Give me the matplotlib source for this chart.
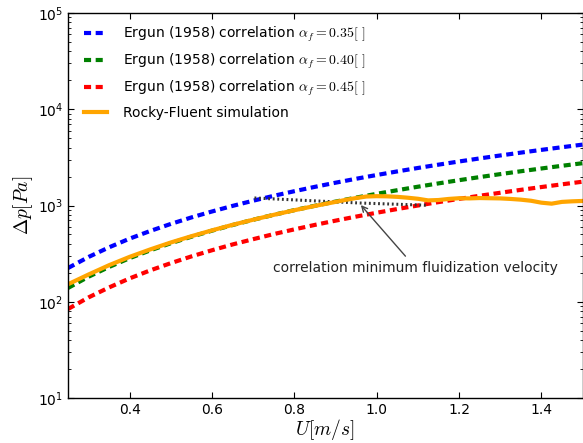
import matplotlib
matplotlib.use("Agg")
import matplotlib.pyplot as plt
import numpy as np

plt.rcParams['mathtext.fontset'] = 'cm'
plt.rcParams['font.family'] = ['DejaVu Sans']

# Ergun correlation curves
u_ergun = [0.25, 0.30, 0.35, 0.40, 0.45, 0.50, 0.55, 0.60, 0.65, 0.70, 0.75, 0.80, 0.85,
           0.90, 0.95, 1.00, 1.05, 1.10, 1.15, 1.20, 1.25, 1.30, 1.35, 1.40, 1.45, 1.50]
dp_035 = [224, 292, 368, 453, 544, 644, 752, 867, 991, 1122, 1261, 1408, 1563,
          1725, 1896, 2074, 2260, 2454, 2656, 2866, 3084, 3309, 3542, 3783, 4032, 4290]
dp_040 = [139, 182, 230, 284, 342, 406, 474, 548, 627, 711, 800, 895, 994,
          1098, 1208, 1322, 1442, 1567, 1697, 1832, 1973, 2118, 2268, 2424, 2585, 2750]
dp_045 = [84, 111, 141, 175, 212, 252, 296, 343, 394, 447, 505, 565, 629,
          696, 767, 841, 919, 1000, 1084, 1171, 1262, 1356, 1454, 1555, 1659, 1767]

# Rocky-Fluent simulation
u_sim = [0.25, 0.30, 0.35, 0.40, 0.45, 0.50, 0.55, 0.60, 0.65, 0.70, 0.75, 0.80, 0.85, 0.90,
         0.925, 0.95, 0.975, 1.00, 1.025, 1.05, 1.075, 1.10, 1.125, 1.15, 1.175, 1.20,
         1.225, 1.25, 1.275, 1.30, 1.325, 1.35, 1.375, 1.40, 1.425, 1.45, 1.475, 1.50]
dp_sim = [152, 192, 240, 293, 350, 413, 480, 552, 630, 712, 800, 893, 990, 1090,
          1145, 1195, 1240, 1250, 1245, 1230, 1205, 1175, 1130, 1140, 1170, 1190,
          1185, 1195, 1190, 1185, 1170, 1150, 1120, 1070, 1045, 1090, 1105, 1115]

# Minimum fluidization line
u_mf = [0.703, 0.957, 1.125]
dp_mf = [1197, 1062, 1005]

labels = [r'Ergun (1958) correlation $\alpha_f=0.35[\,\,]$',
          r'Ergun (1958) correlation $\alpha_f=0.40[\,\,]$',
          r'Ergun (1958) correlation $\alpha_f=0.45[\,\,]$',
          'Rocky-Fluent simulation']

fig = plt.figure(figsize=(5.83, 4.43), dpi=100)
ax = fig.add_axes([68/583, 1-398/443, 514.5/583, 385/443])

ax.plot(u_ergun, dp_035, color='b', ls='--', lw=3, dashes=(1.7, 1.1), label=labels[0])
ax.plot(u_ergun, dp_040, color='g', ls='--', lw=3, dashes=(1.7, 1.1), label=labels[1])
ax.plot(u_ergun, dp_045, color='r', ls='--', lw=3, dashes=(1.7, 1.1), label=labels[2])
ax.plot(u_mf, dp_mf, color='#333333', ls=(0, (0.6, 0.9)), lw=2.2)
ax.plot(u_sim, dp_sim, color='orange', lw=3, label=labels[3])

ax.set_yscale('log')
ax.set_xlim(0.25, 1.5)
ax.set_ylim(10, 1e5)
ax.set_xticks([0.4, 0.6, 0.8, 1.0, 1.2, 1.4])
ax.tick_params(which='both', direction='in', top=True, right=True, labelsize=10)
ax.tick_params(which='major', length=4)
ax.tick_params(which='minor', length=2)
for s in ax.spines.values():
    s.set_linewidth(1)

ax.set_xlabel(r'$U[m/s]$', fontsize=14, labelpad=0)
ax.set_ylabel(r'$\Delta p[Pa]$', fontsize=14, labelpad=2)

ax.annotate('correlation minimum fluidization velocity', xy=(0.957, 1062),
            xytext=(1.095, 224), ha='center', va='center', fontsize=10,
            color='#222222',
            arrowprops=dict(arrowstyle='->', color='#444444', lw=1))

leg = ax.legend(loc='upper left', bbox_to_anchor=(0.009, 1.0), frameon=False,
                fontsize=10, handlelength=1.6, labelspacing=0.55,
                borderaxespad=0.45, borderpad=0.4, handletextpad=1.2)

fig.savefig('out.png', dpi=100)
